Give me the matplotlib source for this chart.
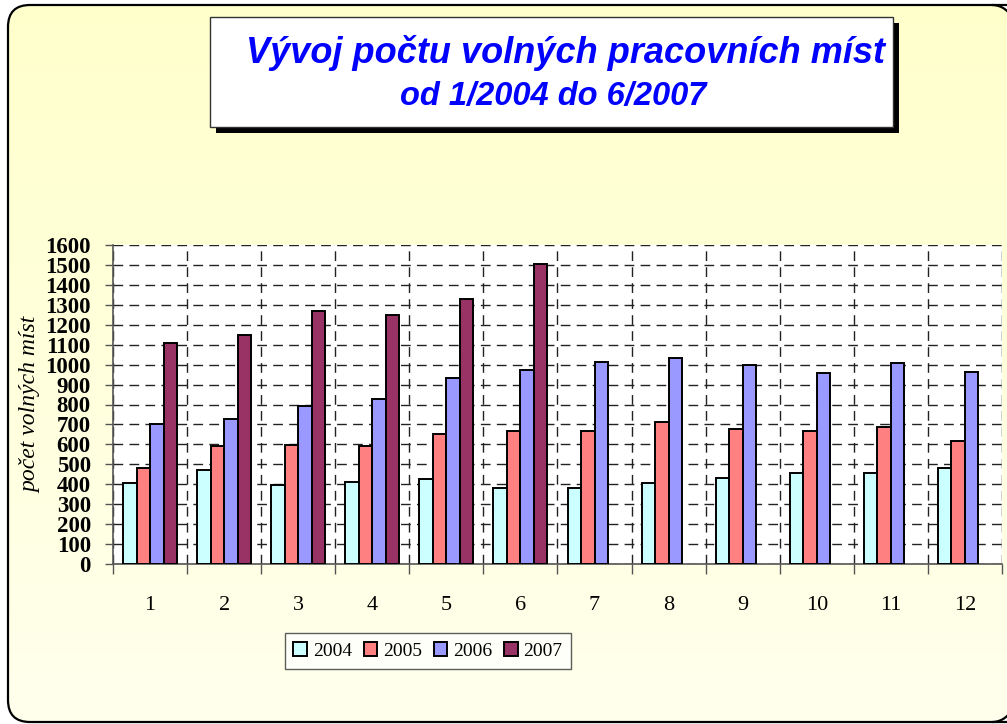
import numpy as np
import matplotlib.pyplot as plt
from matplotlib.patches import FancyBboxPatch, Rectangle, Arc

months = [str(m) for m in range(1, 13)]
years = ["2004", "2005", "2006", "2007"]
v2004 = [405, 473, 396, 413, 425, 380, 380, 405, 431, 457, 457, 483]
v2005 = [483, 594, 599, 592, 652, 669, 669, 711, 677, 669, 686, 619]
v2006 = [704, 727, 794, 828, 931, 973, 1015, 1032, 998, 957, 1007, 965]
v2007 = [1107, 1150, 1271, 1251, 1328, 1507, np.nan, np.nan, np.nan, np.nan, np.nan, np.nan]
colors = ["#CCFFFF", "#FF8080", "#9999FF", "#993366"]

W, H = 1007, 724
fig = plt.figure(figsize=(W / 100, H / 100), dpi=100)
fig.patch.set_facecolor("white")

# background panel, pixel coordinates with origin at bottom-left
bg = fig.add_axes([0, 0, 1, 1], zorder=-10)
bg.axis("off")
grad = np.linspace(0, 1, 256).reshape(-1, 1)
top_c = np.array([1.0, 1.0, 0.80])
bot_c = np.array([1.0, 1.0, 0.93])
img = top_c[None, None, :] * (1 - grad[..., None]) + bot_c[None, None, :] * grad[..., None]
im = bg.imshow(img, extent=(8, 1014, H - 722, H - 5), aspect="auto", zorder=1)
clip = FancyBboxPatch((8, H - 722), 1006, 717, boxstyle="round,pad=0,rounding_size=22",
                      facecolor="none", edgecolor="none", transform=bg.transData)
im.set_clip_path(clip)
# outline: left part as a wide rounded box, right corners as arcs
bg.add_patch(FancyBboxPatch((8, H - 722), 1200, 717, boxstyle="round,pad=0,rounding_size=22",
                            facecolor="none", edgecolor="black", linewidth=1.6, zorder=3))
bg.add_patch(Arc((992, H - 27), 44, 44, theta1=30, theta2=90, color="black", linewidth=1.6, zorder=3))
bg.add_patch(Arc((992, H - 700), 44, 44, theta1=270, theta2=330, color="black", linewidth=1.6, zorder=3))
bg.set_xlim(0, W)
bg.set_ylim(0, H)
bg.set_autoscale_on(False)

# title box with shadow
bg.add_patch(Rectangle((216, H - 133), 683, 110, facecolor="black", edgecolor="none", zorder=4))
bg.add_patch(Rectangle((210, H - 127), 683, 110, facecolor="white", edgecolor="#333333",
                       linewidth=1, zorder=5))
bg.text(566, H - 53, "Vývoj počtu volných pracovních míst", color="#0000FF", fontsize=26,
        fontweight="bold", fontstyle="italic", family="Liberation Sans",
        ha="center", va="center", zorder=6)
bg.text(553, H - 96, "od 1/2004 do 6/2007", color="#0000FF", fontsize=23.5,
        fontweight="bold", fontstyle="italic", family="Liberation Sans",
        ha="center", va="center", zorder=6)

# main chart
ax = fig.add_axes([113 / W, (H - 564) / H, 889 / W, (564 - 245) / H])
ax.set_facecolor("white")
x = np.arange(1, 13)
w = 0.182
series = [v2004, v2005, v2006, v2007]
for i, (vals, col, lab) in enumerate(zip(series, colors, years)):
    ax.bar(x + (i - 1.5) * w, vals, width=w, color=col, edgecolor="black",
           linewidth=1.4, label=lab, zorder=3)

ax.set_xlim(0.5, 12.5)
ax.set_ylim(0, 1600)
ax.set_yticks(np.arange(0, 1601, 100))
ax.set_xticks(x)
ax.set_xticklabels(months, family="Liberation Serif", fontsize=16)
ax.set_xticks(np.arange(0.5, 12.6, 1), minor=True)
ax.tick_params(axis="x", which="major", length=0, pad=23)
ax.tick_params(axis="x", which="minor", length=7, width=1, color="#555555", direction="out")
ax.tick_params(axis="y", length=6, width=1, color="#555555", direction="out", pad=10)
for t in ax.get_yticklabels():
    t.set_family("Liberation Serif")
    t.set_fontweight("bold")
    t.set_fontsize(16.5)

dash = (0, (7, 4.5))
ax.grid(axis="y", which="major", color="#222222", linestyle=dash, linewidth=1, zorder=1)
ax.grid(axis="x", which="minor", color="#222222", linestyle=dash, linewidth=1, zorder=1)
ax.set_axisbelow(True)
for s in ["top", "right"]:
    ax.spines[s].set_visible(False)
for s in ["left", "bottom"]:
    ax.spines[s].set_color("#555555")
    ax.spines[s].set_linewidth(1.2)

ax.set_ylabel("počet volných míst", family="Liberation Serif", fontstyle="italic",
              fontsize=17)
ax.yaxis.set_label_coords(-72 / 889, 0.5)

leg = ax.legend(loc="center", bbox_to_anchor=(428 / W, (H - 651) / H),
                bbox_transform=fig.transFigure, ncol=4, frameon=True, fancybox=False,
                prop={"family": "Liberation Serif", "size": 14}, handlelength=0.7,
                handleheight=0.7, handletextpad=0.3, columnspacing=0.6,
                borderpad=0.45, borderaxespad=0)
leg.get_frame().set_edgecolor("#333333")
leg.get_frame().set_linewidth(1)

fig.savefig("out.png", dpi=100, facecolor=fig.get_facecolor())
